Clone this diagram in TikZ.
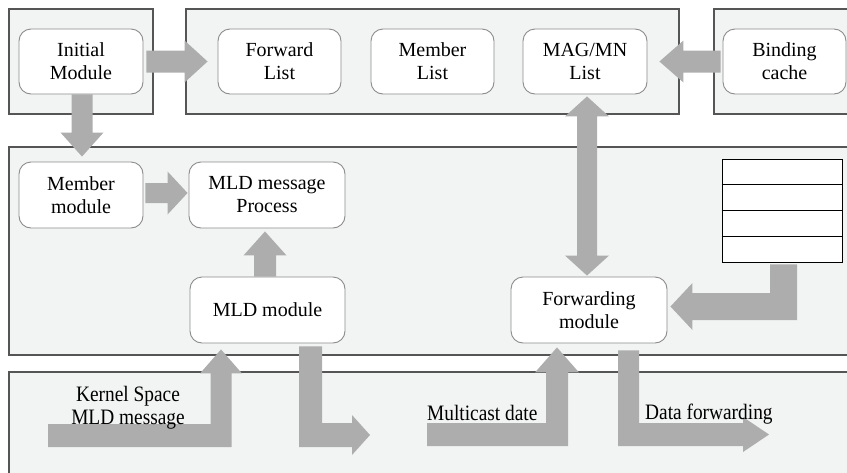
\documentclass[tikz,border=0pt]{standalone}
\usepackage{fontspec}
\setmainfont{Liberation Serif}
\usetikzlibrary{calc}

\definecolor{panelfill}{HTML}{F2F3F3}
\definecolor{panelline}{HTML}{555555}
\definecolor{boxline}{HTML}{8C8C8C}
\definecolor{arrowfill}{HTML}{ADADAD}

\tikzset{
  panel/.style={fill=panelfill, draw=panelline, line width=1.3pt},
  module/.style={draw=boxline, fill=white, rounded corners=12pt, line width=0.9pt,
    align=center, inner sep=0pt, font=\fontsize{20}{23}\selectfont},
  blockarrow/.style={fill=arrowfill, draw=none},
  flowlabel/.style={inner sep=0pt, align=center, font=\fontsize{22}{23}\selectfont},
  listtable/.style={draw=black, fill=white, line width=0.8pt, inner sep=0pt,
    minimum width=120pt, minimum height=103pt},
}

\begin{document}
\begin{tikzpicture}[x=1pt,y=-1pt]
\useasboundingbox (0,0) rectangle (847,472);
\clip (0,0) rectangle (847,472);

% background panels
\draw[panel] (9,9) rectangle (153,114);
\draw[panel] (186,9) rectangle (679,114);
\draw[panel] (714,9) rectangle (870,114);
\draw[panel] (9,147) rectangle (870,355);
\draw[panel] (9,372) rectangle (870,490);

% modules
\node[module, minimum width=124pt, minimum height=65pt] (init)  at (81,61.5)    {Initial\\Module};
\node[module, minimum width=123pt, minimum height=65pt] (fwd)   at (279.5,61.5) {Forward\\List};
\node[module, minimum width=123pt, minimum height=65pt] (mem)   at (432.5,61.5) {Member\\List};
\node[module, minimum width=124pt, minimum height=65pt] (mag)   at (585,61.5)   {MAG/MN\\List};
\node[module, minimum width=123pt, minimum height=65pt] (bind)  at (784.5,61.5) {Binding\\cache};
\node[module, minimum width=124pt, minimum height=66pt] (membmod) at (81,195)   {Member\\module};
\node[module, minimum width=156pt, minimum height=66pt] (mldproc) at (267,195)  {MLD message\\Process};
\node[module, minimum width=155pt, minimum height=66pt] (mldmod)  at (267.5,310) {MLD module};
\node[module, minimum width=156pt, minimum height=66pt] (fwdmod)  at (589,310)  {Forwarding\\module};

% forwarding table
\node[listtable] (tbl) at (782,210.5) {};
\foreach \d in {26,52,78}
  \draw[line width=0.8pt] ($(tbl.north west)+(0,\d)$) -- ($(tbl.north east)+(0,\d)$);

% Initial Module -> Forward List
\coordinate (a1s) at ($(init.east)+(3,0)$);
\coordinate (a1e) at ($(fwd.west)+(-10,0)$);
\fill[blockarrow] ($(a1s)+(0,-11)$) -- ($(a1e)+(-23,-11)$) -- ($(a1e)+(-23,-21)$) -- (a1e)
  -- ($(a1e)+(-23,21)$) -- ($(a1e)+(-23,11)$) -- ($(a1s)+(0,11)$) -- cycle;

% Initial Module -> Member module
\coordinate (a2s) at ($(init.south)+(1,0)$);
\coordinate (a2e) at ($(membmod.north)+(1,-5)$);
\fill[blockarrow] ($(a2s)+(-10.5,0)$) -- ($(a2e)+(-10.5,-24)$) -- ($(a2e)+(-21.5,-24)$) -- (a2e)
  -- ($(a2e)+(21.5,-24)$) -- ($(a2e)+(10.5,-24)$) -- ($(a2s)+(10.5,0)$) -- cycle;

% Binding cache -> MAG/MN List
\coordinate (a3s) at ($(bind.west)+(-2,0)$);
\coordinate (a3e) at ($(mag.east)+(12,0)$);
\fill[blockarrow] ($(a3s)+(0,-11)$) -- ($(a3e)+(24,-11)$) -- ($(a3e)+(24,-21)$) -- (a3e)
  -- ($(a3e)+(24,21)$) -- ($(a3e)+(24,11)$) -- ($(a3s)+(0,11)$) -- cycle;

% MAG/MN List <-> Forwarding module
\coordinate (a4t) at ($(mag.south)+(2,2)$);
\coordinate (a4b) at ($(fwdmod.north)+(-2,-1)$);
\fill[blockarrow] (a4t) -- ($(a4t)+(22,20)$) -- ($(a4t)+(10,20)$) -- ($(a4b)+(10,-20)$)
  -- ($(a4b)+(22,-20)$) -- (a4b) -- ($(a4b)+(-22,-20)$) -- ($(a4b)+(-10,-20)$)
  -- ($(a4t)+(-10,20)$) -- ($(a4t)+(-22,20)$) -- cycle;

% Member module -> MLD message Process
\coordinate (a5s) at ($(membmod.east)+(2,-2)$);
\coordinate (a5e) at ($(mldproc.west)+(-1,-2)$);
\fill[blockarrow] ($(a5s)+(0,-10)$) -- ($(a5e)+(-20,-10)$) -- ($(a5e)+(-20,-21.5)$) -- (a5e)
  -- ($(a5e)+(-20,21.5)$) -- ($(a5e)+(-20,10)$) -- ($(a5s)+(0,10)$) -- cycle;

% MLD module -> MLD message Process
\coordinate (a6s) at ($(mldmod.north)+(-2.5,0)$);
\coordinate (a6e) at ($(mldproc.south)+(-2,3)$);
\fill[blockarrow] ($(a6s)+(-11,0)$) -- ($(a6e)+(-11,24)$) -- ($(a6e)+(-21.5,24)$) -- (a6e)
  -- ($(a6e)+(21.5,24)$) -- ($(a6e)+(11,24)$) -- ($(a6s)+(11,0)$) -- cycle;

% table -> Forwarding module
\coordinate (a7s) at ($(tbl.south)+(1.5,2)$);
\coordinate (a7e) at ($(fwdmod.east)+(3,-3.5)$);
\fill[blockarrow] ($(a7s)+(-13.5,0)$) -- ($(a7s)+(13.5,0)$) -- ($(a7s |- a7e)+(13.5,13.5)$)
  -- ($(a7e)+(22,13.5)$) -- ($(a7e)+(22,23.5)$) -- (a7e) -- ($(a7e)+(22,-23.5)$)
  -- ($(a7e)+(22,-13.5)$) -- ($(a7s |- a7e)+(-13.5,-13.5)$) -- cycle;

% kernel MLD message -> MLD module
\coordinate (a8s) at (48,435.5);
\coordinate (a8e) at ($(mldmod.south)+(-46.5,6)$);
\fill[blockarrow] ($(a8s)+(0,-11.5)$) -- ($(a8e |- a8s)+(-10.5,-11.5)$) -- ($(a8e)+(-10.5,24)$)
  -- ($(a8e)+(-21,24)$) -- (a8e) -- ($(a8e)+(21,24)$) -- ($(a8e)+(10.5,24)$)
  -- ($(a8e |- a8s)+(10.5,11.5)$) -- ($(a8s)+(0,11.5)$) -- cycle;

% MLD module -> out
\coordinate (a9s) at ($(mldmod.south)+(43,3)$);
\coordinate (a9e) at (370,435);
\fill[blockarrow] ($(a9s)+(-11.5,0)$) -- ($(a9s)+(11.5,0)$) -- ($(a9s |- a9e)+(11.5,-12)$)
  -- ($(a9e)+(-18,-12)$) -- ($(a9e)+(-18,-20)$) -- (a9e) -- ($(a9e)+(-18,20)$)
  -- ($(a9e)+(-18,12)$) -- ($(a9s |- a9e)+(-11.5,12)$) -- cycle;

% multicast data -> Forwarding module
\coordinate (a10s) at (427,434.5);
\coordinate (a10e) at ($(fwdmod.south)+(-32,4)$);
\fill[blockarrow] ($(a10s)+(0,-11.5)$) -- ($(a10e |- a10s)+(-11,-11.5)$) -- ($(a10e)+(-11,25)$)
  -- ($(a10e)+(-22,25)$) -- (a10e) -- ($(a10e)+(22,25)$) -- ($(a10e)+(11,25)$)
  -- ($(a10e |- a10s)+(11,11.5)$) -- ($(a10s)+(0,11.5)$) -- cycle;

% Forwarding module -> data forwarding
\coordinate (a11s) at ($(fwdmod.south)+(39.5,7)$);
\coordinate (a11e) at (769,434.5);
\fill[blockarrow] ($(a11s)+(-10.5,0)$) -- ($(a11s)+(10.5,0)$) -- ($(a11s |- a11e)+(10.5,-11.5)$)
  -- ($(a11e)+(-26,-11.5)$) -- ($(a11e)+(-26,-17.5)$) -- (a11e) -- ($(a11e)+(-26,17.5)$)
  -- ($(a11e)+(-26,11.5)$) -- ($(a11s |- a11e)+(-10.5,11.5)$) -- cycle;

% flow labels
\node[flowlabel] (kern) at (128,408)
  {\scalebox{0.88}[1]{Kernel Space}\\\scalebox{0.88}[1]{MLD message}};
\node[flowlabel, anchor=west] (mcast) at (427,413) {\scalebox{0.88}[1]{Multicast date}};
\node[flowlabel, anchor=west] (dfwd) at (645,414) {\scalebox{0.88}[1]{Data forwarding}};
\end{tikzpicture}
\end{document}
